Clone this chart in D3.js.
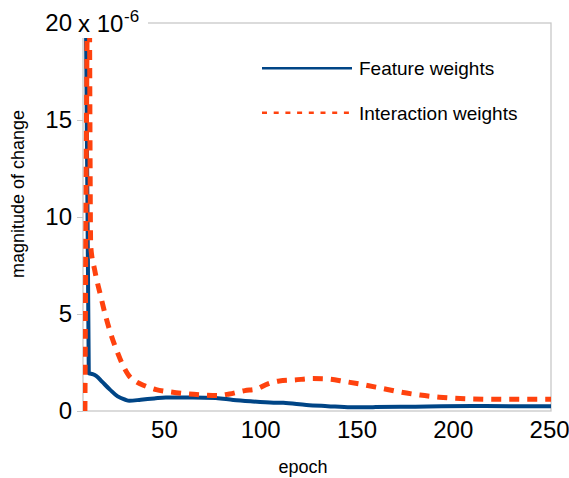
<!DOCTYPE html>
<html>
<head>
<meta charset="utf-8">
<script src="https://cdn.jsdelivr.net/npm/d3@7"></script>
<style>
  body { margin: 0; background: #fff; }
  svg { display: block; font-family: "Liberation Sans", Arial, sans-serif; }
</style>
</head>
<body>
<svg id="chart" width="569" height="478"></svg>
<script>
// series names (legend)
const seriesNames = ["Feature weights", "Interaction weights"];

// Feature weights (blue, solid)
const featureEpochs = [9, 11, 13, 15, 18, 22, 26, 30, 32, 38, 45, 51, 65, 77, 86, 95, 107, 112, 124, 135, 147, 160, 176, 210, 230, 251];
const featureValues = [27, 1.95, 1.9, 1.8, 1.5, 1.1, 0.75, 0.58, 0.53, 0.58, 0.65, 0.7, 0.7, 0.67, 0.57, 0.5, 0.43, 0.42, 0.31, 0.25, 0.19, 0.2, 0.22, 0.26, 0.25, 0.24];

// Interaction weights (orange, dashed)
const interactionEpochs = [9, 11, 12, 14, 17, 20, 23, 26, 29, 32, 35, 40, 46, 52, 60, 70, 78, 84, 92, 98, 104, 110, 118, 127, 135, 144, 154, 163, 172, 183, 193, 210, 227, 251];
const interactionValues = [0, 26, 8.5, 7.3, 6.0, 4.8, 3.8, 3.0, 2.3, 1.8, 1.55, 1.3, 1.1, 1.0, 0.9, 0.83, 0.8, 0.88, 1.05, 1.13, 1.4, 1.55, 1.6, 1.67, 1.65, 1.52, 1.35, 1.17, 0.99, 0.82, 0.71, 0.62, 0.6, 0.6];

// axis ticks
const xTicks = [50, 100, 150, 200, 250];
const yTicks = [0, 5, 10, 15, 20];

const svg = d3.select("#chart");
const plotLeft = 83, plotRight = 551, plotTop = 23, plotBottom = 411;

const x = d3.scaleLinear().domain([8, 251]).range([plotLeft, plotRight]);
const y = d3.scaleLinear().domain([0, 20]).range([plotBottom, plotTop]);

// plot frame
svg.append("rect")
  .attr("x", plotLeft).attr("y", plotTop)
  .attr("width", plotRight - plotLeft).attr("height", plotBottom - plotTop)
  .attr("fill", "none")
  .attr("stroke", "#c8c8c8")
  .attr("stroke-width", 1.3);

// y axis
const yAxis = svg.append("g")
  .attr("transform", `translate(${plotLeft},0)`)
  .call(d3.axisLeft(y).tickValues(yTicks).tickSizeInner(6).tickSizeOuter(0).tickPadding(5));
yAxis.select(".domain").remove();
yAxis.selectAll(".tick line").attr("stroke", "#c8c8c8");
yAxis.selectAll(".tick text")
  .attr("font-size", 24)
  .attr("font-family", "Liberation Sans, Arial, sans-serif")
  .attr("fill", "#000");

// x axis
const xAxis = svg.append("g")
  .attr("transform", `translate(0,${plotBottom})`)
  .call(d3.axisBottom(x).tickValues(xTicks).tickSize(0).tickPadding(10));
xAxis.select(".domain").remove();
xAxis.selectAll(".tick text")
  .attr("font-size", 24)
  .attr("font-family", "Liberation Sans, Arial, sans-serif")
  .attr("fill", "#000");

// clip to plot area
svg.append("defs").append("clipPath").attr("id", "plot-clip")
  .append("rect")
  .attr("x", plotLeft).attr("y", plotTop)
  .attr("width", plotRight - plotLeft).attr("height", plotBottom - plotTop + 3);

const line = d3.line()
  .x((d) => x(d[0]))
  .y((d) => y(d[1]))
  .curve(d3.curveMonotoneX);

const plot = svg.append("g").attr("clip-path", "url(#plot-clip)");

plot.append("path")
  .datum(d3.zip(featureEpochs, featureValues))
  .attr("d", line)
  .attr("fill", "none")
  .attr("stroke", "#004586")
  .attr("stroke-width", 4)
  .attr("stroke-linejoin", "round");

plot.append("path")
  .datum(d3.zip(interactionEpochs, interactionValues))
  .attr("d", line)
  .attr("fill", "none")
  .attr("stroke", "#ff420e")
  .attr("stroke-width", 5)
  .attr("stroke-dasharray", "10,8");

// exponent label (has a white box behind it)
svg.append("rect")
  .attr("x", 76).attr("y", 4)
  .attr("width", 72).attr("height", 34)
  .attr("fill", "#fff");
svg.append("text")
  .attr("x", 78).attr("y", 31.5)
  .attr("font-size", 24)
  .text("x 10");
svg.append("text")
  .attr("x", 124).attr("y", 21.5)
  .attr("font-size", 17)
  .text("-6");

// axis titles
svg.append("text")
  .attr("x", 303).attr("y", 473)
  .attr("text-anchor", "middle")
  .attr("font-size", 18)
  .text("epoch");

svg.append("text")
  .attr("transform", "translate(24,194) rotate(-90)")
  .attr("text-anchor", "middle")
  .attr("font-size", 18)
  .text("magnitude of change");

// legend
const legend = svg.append("g");
const legendY = [68.3, 112.7];
const legendStyles = [
  { color: "#004586", width: 2.5, dash: null },
  { color: "#ff420e", width: 2.5, dash: "5,6.7" }
];
seriesNames.forEach((name, i) => {
  legend.append("line")
    .attr("x1", 262).attr("x2", 352)
    .attr("y1", legendY[i]).attr("y2", legendY[i])
    .attr("stroke", legendStyles[i].color)
    .attr("stroke-width", legendStyles[i].width)
    .attr("stroke-dasharray", legendStyles[i].dash);
  legend.append("text")
    .attr("x", 359)
    .attr("y", legendY[i] + 6.8)
    .attr("font-size", 19)
    .text(name);
});
</script>
</body>
</html>
